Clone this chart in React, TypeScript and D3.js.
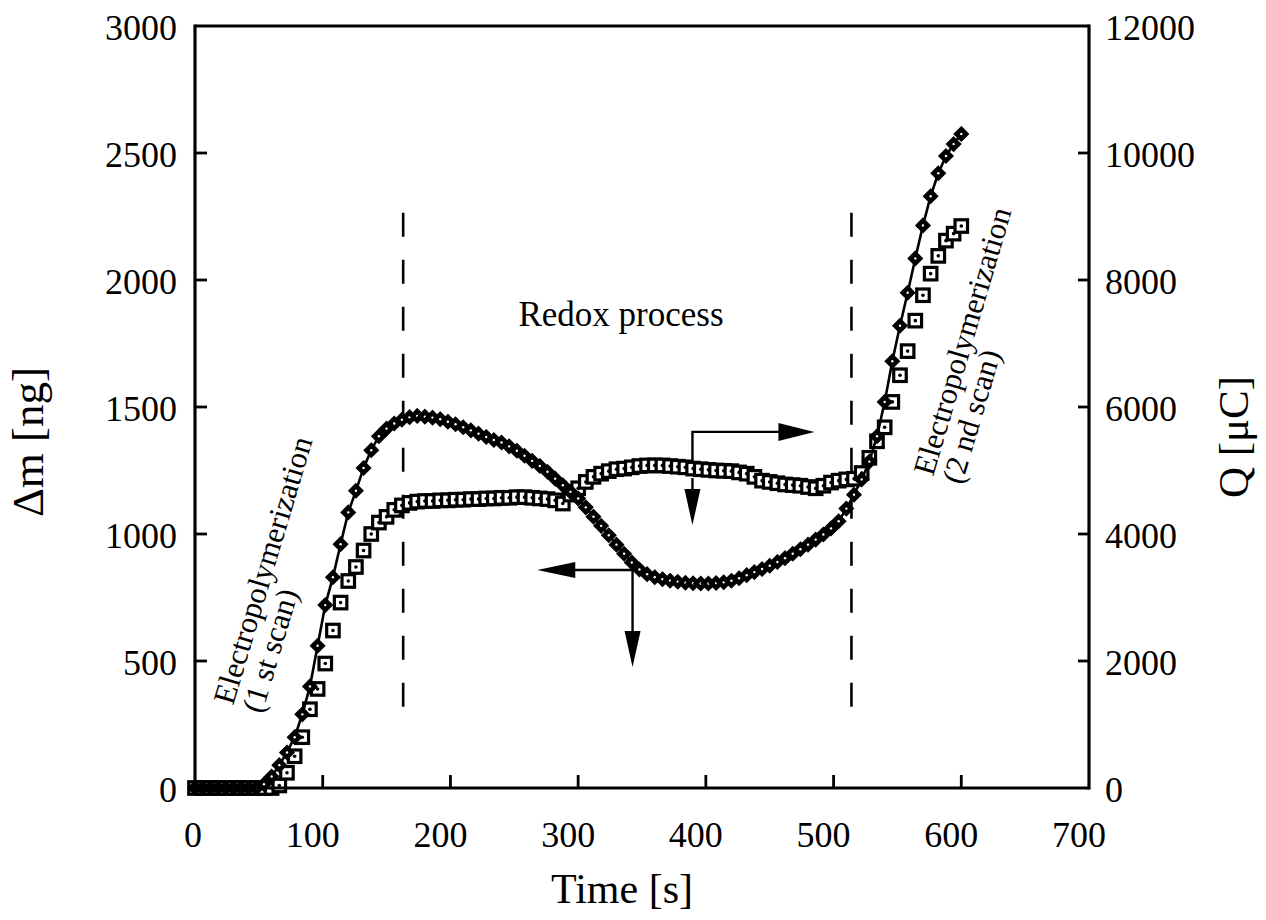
import React from 'react';
import * as d3 from 'd3';

// ---- data ----
const TIME = [
  0, 6, 12, 18, 24, 30, 36, 42, 48, 54, 60, 66, 72, 78, 84, 90, 96, 102, 108, 114,
  120, 126, 132, 138, 144, 150, 156, 162, 168, 174, 180, 186, 192, 198, 204, 210, 216, 222, 228, 234,
  240, 246, 252, 258, 264, 270, 276, 282, 288, 294, 300, 306, 312, 318, 324, 330, 336, 342, 348, 354,
  360, 366, 372, 378, 384, 390, 396, 402, 408, 414, 420, 426, 432, 438, 444, 450, 456, 462, 468, 474,
  480, 486, 492, 498, 504, 510, 516, 522, 528, 534, 540, 546, 552, 558, 564, 570, 576, 582, 588, 594, 600,
];

// Δm [ng] (left axis, filled diamonds + line)
const DELTA_M = [
  0, 0, 0, 0, 0, 0, 0, 0, 0, 15, 45, 90, 140, 200, 290, 400, 560, 720, 830, 960,
  1085, 1170, 1260, 1330, 1385, 1415, 1435, 1450, 1460, 1465, 1462, 1458, 1452, 1442, 1432, 1420, 1408, 1395, 1382, 1370,
  1360, 1345, 1328, 1308, 1288, 1268, 1245, 1218, 1192, 1166, 1140, 1105, 1068, 1032, 995, 958, 922, 888, 860, 842,
  830, 822, 816, 812, 808, 806, 805, 805, 807, 810, 816, 826, 838, 850, 862, 875, 890, 905, 922, 940,
  958, 978, 998, 1022, 1050, 1100, 1155, 1215, 1285, 1385, 1520, 1680, 1820, 1950, 2085, 2215, 2330, 2420, 2488, 2535, 2575,
];

// Q [µC] (right axis, open squares)
const CHARGE = [
  0, 0, 0, 0, 0, 0, 0, 0, 0, 0, 0, 40, 240, 500, 800, 1240, 1560, 1960, 2480, 2920,
  3260, 3480, 3740, 4000, 4180, 4270, 4380, 4450, 4490, 4510, 4520, 4520, 4530, 4530, 4540, 4540, 4550, 4550, 4560, 4560,
  4570, 4570, 4580, 4580, 4570, 4560, 4550, 4530, 4480, 4620, 4720, 4820, 4900, 4950, 4990, 5020, 5030, 5050, 5070, 5080,
  5080, 5080, 5070, 5060, 5050, 5030, 5020, 5010, 5000, 4995, 4990, 4970, 4950, 4900, 4840, 4820, 4800, 4780, 4770, 4760,
  4740, 4720, 4760, 4810, 4840, 4860, 4870, 4960, 5200, 5460, 5680, 6080, 6500, 6880, 7360, 7760, 8100, 8380, 8620, 8730, 8850,
];

const X_TICKS = [0, 100, 200, 300, 400, 500, 600, 700];
const LEFT_TICKS = [0, 500, 1000, 1500, 2000, 2500, 3000];
const RIGHT_TICKS = [0, 2000, 4000, 6000, 8000, 10000, 12000];

// phase boundaries (time, s) and extent of the dashed markers (Δm units)
const PHASE_TIMES = [163, 514];
const PHASE_SPAN = [315, 2265];

const FONT = '"Liberation Serif", "Times New Roman", serif';

export default function App() {
  const W = 1266;
  const H = 920;
  const x = d3.scaleLinear().domain([0, 700]).range([195, 1089]);
  const yL = d3.scaleLinear().domain([0, 3000]).range([788, 26]);
  const yR = d3.scaleLinear().domain([0, 12000]).range([788, 26]);

  const linePath = d3
    .line<number>()
    .x((_, i) => x(TIME[i]))
    .y((d) => yL(d))(DELTA_M) as string;

  const left = x(0);
  const right = x(700);
  const top = yL(3000);
  const bottom = yL(0);

  const arrowHead = (tx: number, ty: number, dir: 'left' | 'right' | 'down', len = 35, half = 9) => {
    if (dir === 'right') return `M${tx},${ty}L${tx - len},${ty - half}L${tx - len},${ty + half}Z`;
    if (dir === 'left') return `M${tx},${ty}L${tx + len},${ty - half}L${tx + len},${ty + half}Z`;
    return `M${tx},${ty}L${tx - half},${ty - len}L${tx + half},${ty - len}Z`;
  };

  // annotation anchors in data units
  const qArrowX = x(389.5);
  const qArrowTop = yL(1402);
  const qArrowJoin = yL(1280);
  const qArrowRightTip = x(485);
  const qDownStart = yL(1220);
  const qDownTip = yL(1035);

  const mArrowX = x(342.6);
  const mArrowY = yL(858);
  const mLeftTip = x(268);
  const mDownTip = yL(476);

  const sq = 12.5;
  const dia = 7.2;

  return (
    <svg
      width={W}
      height={H}
      style={{ position: 'absolute', left: 0, top: 0, background: '#fff', display: 'block' }}
      fontFamily={FONT}
    >
      <rect x={0} y={0} width={W} height={H} fill="#fff" />

      {/* dashed phase markers */}
      {PHASE_TIMES.map((t) => (
        <line
          key={t}
          x1={x(t)}
          x2={x(t)}
          y1={yL(PHASE_SPAN[1])}
          y2={yL(PHASE_SPAN[0])}
          stroke="#000"
          strokeWidth={2.6}
          strokeDasharray="24 23"
        />
      ))}

      {/* Q squares */}
      <g>
        {CHARGE.map((q, i) => (
          <g key={i} transform={`translate(${x(TIME[i])},${yR(q)})`}>
            <rect x={-sq / 2} y={-sq / 2} width={sq} height={sq} fill="#fff" stroke="#000" strokeWidth={3.2} />
            <circle r={1.8} fill="#000" />
          </g>
        ))}
      </g>

      {/* Δm line + diamonds */}
      <path d={linePath} fill="none" stroke="#000" strokeWidth={2.6} />
      <g>
        {DELTA_M.map((m, i) => (
          <g key={i} transform={`translate(${x(TIME[i])},${yL(m)})`}>
            <path d={`M0,${-dia}L${dia},0L0,${dia}L${-dia},0Z`} fill="#000" stroke="#000" strokeWidth={1.2} />
            <circle r={1.2} fill="#fff" />
          </g>
        ))}
      </g>

      {/* frame */}
      <g stroke="#000" strokeWidth={3.2} fill="none">
        <line x1={left} x2={left} y1={top - 1.5} y2={bottom + 1.5} />
        <line x1={right} x2={right} y1={top - 1.5} y2={bottom + 1.5} />
        <line x1={left} x2={right} y1={top} y2={top} />
        <line x1={left} x2={right} y1={bottom} y2={bottom} />
      </g>

      {/* ticks */}
      <g stroke="#000" strokeWidth={2.8}>
        {X_TICKS.filter((t) => t > 0 && t < 700).map((t) => (
          <line key={t} x1={x(t)} x2={x(t)} y1={bottom} y2={bottom - 13} />
        ))}
        {LEFT_TICKS.filter((v) => v > 0 && v < 3000).map((v) => (
          <line key={v} x1={left} x2={left + 12} y1={yL(v)} y2={yL(v)} />
        ))}
        {RIGHT_TICKS.filter((v) => v > 0 && v < 12000).map((v) => (
          <line key={v} x1={right} x2={right - 11} y1={yR(v)} y2={yR(v)} />
        ))}
      </g>

      {/* tick labels */}
      <g fontSize={36} fill="#000">
        {X_TICKS.map((t) => (
          <text key={t} x={x(t) + (t === 0 ? -2 : -10)} y={847} textAnchor="middle">
            {t}
          </text>
        ))}
        {LEFT_TICKS.map((v) => (
          <text key={v} x={177} y={yL(v) + 14} textAnchor="end">
            {v}
          </text>
        ))}
        {RIGHT_TICKS.map((v) => (
          <text key={v} x={1105} y={yR(v) + 14} textAnchor="start">
            {v}
          </text>
        ))}
      </g>

      {/* axis titles */}
      <text x={622} y={903} fontSize={42} textAnchor="middle">
        Time [s]
      </text>
      <text transform="translate(43,442) rotate(-90)" fontSize={45} textAnchor="middle">
        Δm [ng]
      </text>
      <text transform="translate(1248,437) rotate(-90)" fontSize={43} textAnchor="middle">
        Q [μC]
      </text>

      {/* annotations */}
      <text x={621} y={326} fontSize={35} textAnchor="middle">
        Redox process
      </text>
      <g transform="translate(233,706) rotate(-73.3)" fontSize={31}>
        <text x={0} y={0}>Electropolymerization</text>
        <text x={0} y={30}>(1 st scan)</text>
      </g>
      <g transform="translate(933,477) rotate(-73.5)" fontSize={31}>
        <text x={0} y={0}>Electropolymerization</text>
        <text x={0} y={30}>(2 nd scan)</text>
      </g>

      {/* arrows */}
      <g stroke="#000" strokeWidth={2.4} fill="none">
        <polyline points={`${qArrowX},${qArrowJoin} ${qArrowX},${qArrowTop} ${qArrowRightTip - 30},${qArrowTop}`} />
        <line x1={qArrowX} x2={qArrowX} y1={qDownStart} y2={qDownTip - 30} />
        <line x1={mArrowX} x2={mLeftTip + 30} y1={mArrowY} y2={mArrowY} />
        <line x1={mArrowX} x2={mArrowX} y1={mArrowY} y2={mDownTip - 30} />
      </g>
      <g fill="#000">
        <path d={arrowHead(qArrowRightTip, qArrowTop, 'right', 36, 9)} />
        <path d={arrowHead(qArrowX, qDownTip, 'down', 36, 8)} />
        <path d={arrowHead(mLeftTip, mArrowY, 'left', 38, 8)} />
        <path d={arrowHead(mArrowX, mDownTip, 'down', 36, 8)} />
      </g>
    </svg>
  );
}
